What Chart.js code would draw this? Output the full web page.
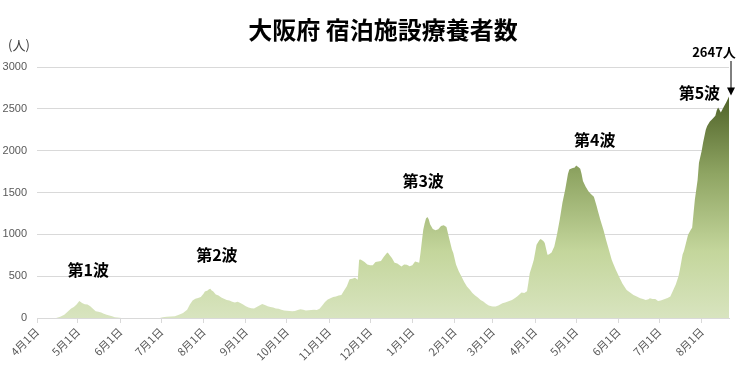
<!DOCTYPE html>
<html>
<head>
<meta charset="utf-8">
<script src="https://cdn.jsdelivr.net/npm/chart.js@4"></script>
<style>
  html, body { margin: 0; padding: 0; background: #fff; }
  #wrap { width: 746px; height: 371px; }
</style>
</head>
<body>
<div id="wrap"><canvas id="chart" width="746" height="371"></canvas></div>
<script>
// days since 2020-04-01
const days = [
  0, 14, 17, 20, 23, 25, 27, 29, 31, 33, 35, 37, 39, 41, 43, 45, 47, 49, 51, 53, 55, 57, 59, 62,
  90, 92, 95, 98, 101, 104, 107, 110, 112, 114, 116, 118, 120, 122, 123, 125, 126, 127, 128, 129,
  131, 133, 135, 137, 139, 141, 143, 145, 147, 149, 151, 153, 155, 157, 159, 161, 163, 165, 167,
  169, 171, 173, 175, 177, 179, 181, 183, 185, 187, 189, 191, 193, 195, 197, 199, 201, 203, 205,
  207, 209, 211, 213, 215, 217, 219, 221, 223, 225, 227, 229, 231, 233, 235, 236, 237, 238, 240,
  242, 244, 246, 248, 250, 252, 254, 256, 257, 258, 260, 262, 264, 265, 267, 269, 271, 273, 275,
  277, 279, 280, 281, 282, 283, 284, 285, 286, 287, 288, 290, 292, 294, 296, 298, 300, 301, 302,
  304, 305, 307, 309, 311, 313, 315, 317, 319, 321, 323, 325, 327, 329, 331, 333, 334, 336, 338,
  341, 343, 345, 348, 350, 352, 354, 355, 357, 359, 360, 361, 363, 364, 366, 368, 369, 371, 372,
  374, 375, 377, 379, 381, 383, 385, 387, 389, 390, 392, 394, 395, 397, 398, 399, 400, 402, 404,
  406, 408, 410, 411, 413, 415, 417, 419, 421, 422, 424, 427, 429, 432, 434, 437, 439, 442, 444,
  446, 448, 449, 451, 453, 455, 457, 460, 462, 464, 466, 468, 470, 471, 473, 474, 476, 477, 479,
  480, 481, 482, 484, 485, 487, 488, 490, 491, 493, 495, 497, 498, 499, 500, 501, 503, 505, 507
];
const counts = [
  0, 0, 15, 40, 85, 115, 130, 160, 204, 180, 165, 160, 140, 110, 80, 75, 65, 50, 40, 30, 20, 10, 5, 0,
  0, 8, 15, 18, 22, 40, 60, 100, 160, 210, 230, 240, 250, 290, 316, 330, 344, 350, 330, 320,
  280, 270, 245, 230, 215, 210, 195, 185, 195, 180, 160, 140, 125, 118, 115, 130, 150, 168, 155,
  140, 130, 125, 115, 110, 100, 90, 88, 85, 80, 85, 95, 105, 100, 90, 92, 95, 100, 96,
  110, 150, 190, 220, 236, 250, 256, 270, 276, 330, 380, 464, 470, 480, 456, 696, 700, 690, 670,
  640, 630, 630, 670, 676, 680, 730, 770, 784, 760, 716, 660, 650, 640, 616, 640, 636, 620, 630,
  676, 665, 660, 780, 920, 1056, 1130, 1190, 1208, 1180, 1120, 1064, 1048, 1060, 1100, 1108, 1088, 1020, 950,
  820, 776, 640, 560, 496, 430, 376, 340, 300, 270, 245, 215, 196, 170, 150, 140, 136, 136, 150,
  176, 185, 196, 215, 236, 260, 290, 304, 300, 320, 420, 536, 640, 696, 876, 930, 944, 920, 896,
  756, 760, 784, 856, 1000, 1176, 1380, 1536, 1720, 1776, 1790, 1800, 1824, 1800, 1784, 1720, 1636, 1570, 1516,
  1480, 1448, 1340, 1276, 1160, 1056, 930, 816, 700, 656, 580, 476, 410, 336, 310, 276, 260, 236, 226,
  216, 225, 236, 228, 228, 204, 210, 228, 240, 256, 330, 400, 500, 576, 760, 800, 930, 996, 1056,
  1080, 1250, 1416, 1650, 1856, 2000, 2096, 2250, 2296, 2350, 2380, 2416, 2480, 2516, 2490, 2456, 2520, 2580, 2647
];

const monthTicks = [0, 30, 61, 91, 122, 153, 183, 214, 244, 275, 306, 334, 365, 395, 426, 456, 487];
const monthLabels = ['4月1日', '5月1日', '6月1日', '7月1日', '8月1日', '9月1日', '10月1日', '11月1日',
  '12月1日', '1月1日', '2月1日', '3月1日', '4月1日', '5月1日', '6月1日', '7月1日', '8月1日'];

const waveNames = ['第1波', '第2波', '第3波', '第4波', '第5波'];
// label anchor in data coords (day, value)
const waveAnchors = [[37.5, 576], [131.8, 756], [282.9, 1644], [408.6, 2124], [485.3, 2688]];

const JP = '"Noto Sans CJK JP", "Noto Sans", sans-serif';

function areaFill(context) {
  const chart = context.chart;
  const { ctx, chartArea, scales } = chart;
  if (!chartArea) return '#d3e0b3';
  const y0 = scales.y.getPixelForValue(0);
  const y1 = scales.y.getPixelForValue(2647);
  const g = ctx.createLinearGradient(0, y0, 0, y1);
  g.addColorStop(0, '#d8e4bf');
  g.addColorStop(0.3, '#c4d69c');
  g.addColorStop(0.65, '#8fa563');
  g.addColorStop(1, '#4f6228');
  return g;
}

const extras = {
  id: 'extras',
  afterDraw(chart) {
    const { ctx, scales } = chart;
    const x = scales.x, y = scales.y;
    ctx.save();
    ctx.fillStyle = '#000';
    ctx.textAlign = 'center';
    ctx.textBaseline = 'middle';
    ctx.font = 'bold 24px ' + JP;
    ctx.fillText('大阪府 宿泊施設療養者数', 383, 30);

    ctx.font = '13px ' + JP;
    ctx.fillStyle = '#404040';
    ctx.textAlign = 'left';
    ctx.fillText('(人)', 8, 45);

    ctx.fillStyle = '#000';
    ctx.textAlign = 'center';
    ctx.font = 'bold 16px ' + JP;
    waveNames.forEach((name, i) => {
      const [d, v] = waveAnchors[i];
      ctx.fillText(name, x.getPixelForValue(d), y.getPixelForValue(v));
    });

    // latest value callout
    const lastD = days[days.length - 1];
    const lastV = counts[counts.length - 1];
    const px = x.getPixelForValue(lastD) + 2;
    const py = y.getPixelForValue(lastV);
    ctx.font = 'bold 13px ' + JP;
    ctx.fillText(lastV + '人', 714, 52);
    ctx.strokeStyle = '#000';
    ctx.lineWidth = 1;
    ctx.beginPath();
    ctx.moveTo(px, 61);
    ctx.lineTo(px, py - 8);
    ctx.stroke();
    ctx.beginPath();
    ctx.moveTo(px - 4, py - 9);
    ctx.lineTo(px + 4, py - 9);
    ctx.lineTo(px, py - 1);
    ctx.closePath();
    ctx.fill();
    ctx.restore();
  }
};

new Chart(document.getElementById('chart').getContext('2d'), {
  type: 'line',
  data: {
    datasets: [{
      data: days.map((d, i) => ({ x: d, y: counts[i] })),
      fill: 'origin',
      backgroundColor: areaFill,
      borderWidth: 0,
      pointRadius: 0,
      tension: 0
    }]
  },
  options: {
    responsive: false,
    animation: false,
    layout: { padding: { top: 67, right: 17, left: 0, bottom: 0 } },
    plugins: { legend: { display: false }, tooltip: { enabled: false }, title: { display: false } },
    scales: {
      x: {
        type: 'linear',
        min: 0,
        max: 507,
        afterBuildTicks: (scale) => { scale.ticks = monthTicks.map((v) => ({ value: v })); },
        afterFit: (scale) => { scale.height = 53; },
        ticks: {
          autoSkip: false,
          maxRotation: 45,
          minRotation: 45,
          padding: 2,
          color: '#595959',
          font: { family: JP, size: 11 },
          callback: (val, i) => monthLabels[i]
        },
        grid: { drawOnChartArea: false, drawTicks: true, tickLength: 5, color: '#d9d9d9' },
        border: { display: true, color: '#d9d9d9' }
      },
      y: {
        min: 0,
        max: 3000,
        afterFit: (scale) => { scale.width = 37; },
        ticks: {
          stepSize: 500,
          padding: 10,
          color: '#595959',
          font: { family: '"Liberation Sans", Arial, sans-serif', size: 11 },
          callback: (val) => String(val)
        },
        grid: { color: '#d9d9d9', drawTicks: false },
        border: { display: false }
      }
    }
  },
  plugins: [extras]
});
</script>
</body>
</html>
